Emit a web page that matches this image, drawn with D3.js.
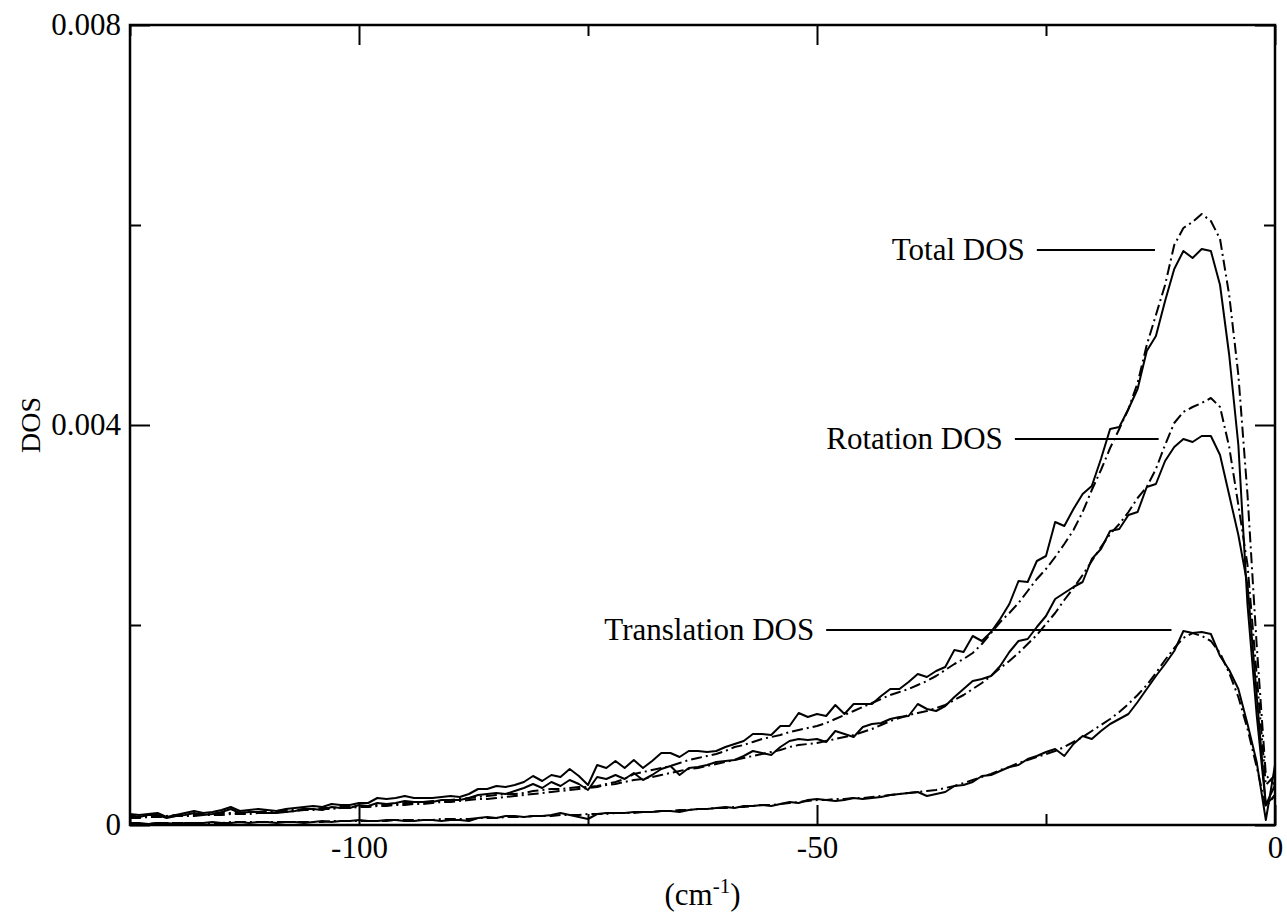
<!DOCTYPE html>
<meta charset="utf-8">
<style>
  body { margin: 0; background: #fff; }
  text { font-family: "Liberation Serif", "Times New Roman", serif; fill: #000; }
</style>
<svg width="1287" height="915"></svg>
<script src="https://d3js.org/d3.v7.min.js"></script>
<script>

// frequency grid (cm^-1), one point per wavenumber
var freq = d3.range(-125, 1);

var totalSolid = [
  0.00011, 0.00010, 0.00011, 0.00012, 0.00008, 0.00010, 0.00012, 0.00014, 0.00012, 0.00013,
  0.00015, 0.00018, 0.00014, 0.00015, 0.00016, 0.00015, 0.00014, 0.00016, 0.00017, 0.00018,
  0.00019, 0.00018, 0.00021, 0.00020, 0.00020, 0.00022, 0.00022, 0.00027, 0.00026, 0.00027,
  0.00029, 0.00027, 0.00027, 0.00027, 0.00028, 0.00029, 0.00028, 0.00031, 0.00036, 0.00036,
  0.00039, 0.00038, 0.00040, 0.00043, 0.00049, 0.00044, 0.00050, 0.00048, 0.00056, 0.00049,
  0.00040, 0.00060, 0.00057, 0.00064, 0.00057, 0.00065, 0.00057, 0.00064, 0.00072, 0.00072,
  0.00068, 0.00074, 0.00074, 0.00073, 0.00074, 0.00078, 0.00081, 0.00084, 0.00091, 0.00091,
  0.00090, 0.00099, 0.00099, 0.00112, 0.00108, 0.00111, 0.00109, 0.00120, 0.00111, 0.00121,
  0.00121, 0.00121, 0.00129, 0.00136, 0.00136, 0.00143, 0.00151, 0.00148, 0.00154, 0.00158,
  0.00175, 0.00173, 0.00189, 0.00184, 0.00193, 0.00206, 0.00221, 0.00244, 0.00243, 0.00264,
  0.00269, 0.00303, 0.00299, 0.00316, 0.00331, 0.00339, 0.00366, 0.00396, 0.00398, 0.00416,
  0.00436, 0.00474, 0.00489, 0.00524, 0.00556, 0.00574, 0.00567, 0.00576, 0.00574, 0.00540,
  0.00470, 0.00380, 0.00220, 0.00110, 0.00020, 0.00030
];

var totalDash = [
  0.00008, 0.00008, 0.00009, 0.00009, 0.00009, 0.00010, 0.00010, 0.00011, 0.00011, 0.00011,
  0.00012, 0.00012, 0.00012, 0.00013, 0.00013, 0.00014, 0.00014, 0.00015, 0.00015, 0.00016,
  0.00016, 0.00017, 0.00017, 0.00018, 0.00018, 0.00019, 0.00019, 0.00020, 0.00021, 0.00021,
  0.00022, 0.00022, 0.00023, 0.00024, 0.00024, 0.00025, 0.00026, 0.00027, 0.00028, 0.00029,
  0.00030, 0.00031, 0.00031, 0.00032, 0.00034, 0.00035, 0.00036, 0.00036, 0.00037, 0.00038,
  0.00038, 0.00039, 0.00041, 0.00043, 0.00046, 0.00051, 0.00053, 0.00055, 0.00057, 0.00059,
  0.00062, 0.00065, 0.00067, 0.00069, 0.00071, 0.00074, 0.00078, 0.00080, 0.00083, 0.00086,
  0.00088, 0.00090, 0.00093, 0.00095, 0.00097, 0.00099, 0.00102, 0.00106, 0.00110, 0.00114,
  0.00118, 0.00122, 0.00126, 0.00130, 0.00133, 0.00136, 0.00140, 0.00144, 0.00149, 0.00155,
  0.00161, 0.00166, 0.00172, 0.00181, 0.00192, 0.00203, 0.00212, 0.00222, 0.00234, 0.00246,
  0.00256, 0.00268, 0.00281, 0.00295, 0.00313, 0.00335, 0.00355, 0.00377, 0.00396, 0.00416,
  0.00442, 0.00480, 0.00510, 0.00540, 0.00580, 0.00597, 0.00603, 0.00611, 0.00604, 0.00586,
  0.00530, 0.00450, 0.00330, 0.00180, 0.00050, 0.00040
];

var rotSolid = [
  0.00010, 0.00008, 0.00010, 0.00010, 0.00007, 0.00009, 0.00010, 0.00012, 0.00010, 0.00011,
  0.00013, 0.00016, 0.00012, 0.00013, 0.00013, 0.00012, 0.00012, 0.00013, 0.00014, 0.00016,
  0.00016, 0.00015, 0.00018, 0.00017, 0.00017, 0.00020, 0.00019, 0.00022, 0.00021, 0.00022,
  0.00024, 0.00023, 0.00023, 0.00023, 0.00025, 0.00025, 0.00025, 0.00027, 0.00030, 0.00031,
  0.00032, 0.00031, 0.00034, 0.00037, 0.00041, 0.00037, 0.00043, 0.00039, 0.00045, 0.00041,
  0.00035, 0.00048, 0.00046, 0.00050, 0.00046, 0.00052, 0.00045, 0.00050, 0.00056, 0.00059,
  0.00050, 0.00057, 0.00058, 0.00060, 0.00063, 0.00064, 0.00065, 0.00069, 0.00074, 0.00072,
  0.00070, 0.00078, 0.00084, 0.00086, 0.00085, 0.00086, 0.00083, 0.00094, 0.00091, 0.00088,
  0.00098, 0.00101, 0.00102, 0.00106, 0.00108, 0.00109, 0.00121, 0.00116, 0.00114, 0.00119,
  0.00128, 0.00136, 0.00144, 0.00146, 0.00149, 0.00159, 0.00173, 0.00184, 0.00186, 0.00198,
  0.00209, 0.00226, 0.00232, 0.00238, 0.00243, 0.00266, 0.00276, 0.00294, 0.00296, 0.00310,
  0.00313, 0.00338, 0.00341, 0.00364, 0.00378, 0.00386, 0.00383, 0.00389, 0.00389, 0.00370,
  0.00330, 0.00290, 0.00240, 0.00130, 0.00020, 0.00040
];

var rotDash = [
  0.00007, 0.00007, 0.00008, 0.00008, 0.00008, 0.00009, 0.00009, 0.00009, 0.00010, 0.00010,
  0.00010, 0.00011, 0.00011, 0.00011, 0.00012, 0.00012, 0.00013, 0.00013, 0.00014, 0.00015,
  0.00015, 0.00016, 0.00016, 0.00017, 0.00017, 0.00018, 0.00018, 0.00019, 0.00019, 0.00020,
  0.00020, 0.00021, 0.00021, 0.00022, 0.00023, 0.00023, 0.00024, 0.00025, 0.00026, 0.00026,
  0.00027, 0.00028, 0.00029, 0.00030, 0.00031, 0.00032, 0.00033, 0.00034, 0.00035, 0.00036,
  0.00037, 0.00038, 0.00040, 0.00041, 0.00043, 0.00045, 0.00046, 0.00048, 0.00050, 0.00052,
  0.00054, 0.00056, 0.00057, 0.00059, 0.00061, 0.00063, 0.00065, 0.00067, 0.00069, 0.00071,
  0.00073, 0.00075, 0.00078, 0.00080, 0.00081, 0.00082, 0.00084, 0.00086, 0.00088, 0.00090,
  0.00093, 0.00096, 0.00100, 0.00104, 0.00107, 0.00110, 0.00112, 0.00114, 0.00117, 0.00120,
  0.00125, 0.00130, 0.00136, 0.00142, 0.00149, 0.00157, 0.00164, 0.00172, 0.00181, 0.00190,
  0.00201, 0.00212, 0.00225, 0.00237, 0.00250, 0.00264, 0.00278, 0.00291, 0.00301, 0.00313,
  0.00327, 0.00338, 0.00356, 0.00380, 0.00402, 0.00413, 0.00418, 0.00422, 0.00427, 0.00418,
  0.00378, 0.00320, 0.00260, 0.00150, 0.00040, 0.00050
];

var transSolid = [
  0.00002, 0.00002, 0.00001, 0.00002, 0.00002, 0.00001, 0.00002, 0.00002, 0.00002, 0.00003,
  0.00002, 0.00002, 0.00003, 0.00002, 0.00003, 0.00003, 0.00002, 0.00003, 0.00003, 0.00002,
  0.00003, 0.00004, 0.00003, 0.00004, 0.00004, 0.00005, 0.00004, 0.00004, 0.00005, 0.00005,
  0.00004, 0.00004, 0.00005, 0.00005, 0.00004, 0.00005, 0.00005, 0.00004, 0.00007, 0.00008,
  0.00007, 0.00009, 0.00009, 0.00008, 0.00009, 0.00009, 0.00010, 0.00012, 0.00010, 0.00008,
  0.00006, 0.00011, 0.00012, 0.00012, 0.00012, 0.00013, 0.00013, 0.00013, 0.00014, 0.00014,
  0.00013, 0.00015, 0.00016, 0.00016, 0.00017, 0.00018, 0.00017, 0.00019, 0.00019, 0.00020,
  0.00019, 0.00021, 0.00023, 0.00022, 0.00025, 0.00026, 0.00025, 0.00024, 0.00025, 0.00027,
  0.00026, 0.00027, 0.00028, 0.00030, 0.00031, 0.00032, 0.00033, 0.00029, 0.00031, 0.00033,
  0.00039, 0.00040, 0.00043, 0.00049, 0.00050, 0.00054, 0.00058, 0.00060, 0.00066, 0.00069,
  0.00073, 0.00076, 0.00069, 0.00081, 0.00089, 0.00086, 0.00094, 0.00101, 0.00106, 0.00111,
  0.00123, 0.00136, 0.00149, 0.00161, 0.00174, 0.00194, 0.00192, 0.00193, 0.00191, 0.00169,
  0.00155, 0.00136, 0.00101, 0.00063, 0.00005, 0.00060
];

var transDash = [
  0.00001, 0.00001, 0.00001, 0.00002, 0.00002, 0.00002, 0.00002, 0.00002, 0.00002, 0.00002,
  0.00002, 0.00003, 0.00003, 0.00003, 0.00003, 0.00003, 0.00003, 0.00003, 0.00003, 0.00003,
  0.00003, 0.00003, 0.00004, 0.00004, 0.00004, 0.00004, 0.00004, 0.00004, 0.00004, 0.00005,
  0.00005, 0.00005, 0.00005, 0.00005, 0.00006, 0.00006, 0.00006, 0.00006, 0.00007, 0.00007,
  0.00007, 0.00008, 0.00008, 0.00008, 0.00009, 0.00009, 0.00009, 0.00010, 0.00010, 0.00010,
  0.00011, 0.00011, 0.00011, 0.00012, 0.00012, 0.00012, 0.00013, 0.00013, 0.00014, 0.00014,
  0.00015, 0.00015, 0.00016, 0.00016, 0.00017, 0.00017, 0.00018, 0.00018, 0.00019, 0.00020,
  0.00020, 0.00021, 0.00022, 0.00023, 0.00024, 0.00025, 0.00025, 0.00026, 0.00026, 0.00027,
  0.00027, 0.00028, 0.00029, 0.00030, 0.00031, 0.00032, 0.00033, 0.00034, 0.00035, 0.00037,
  0.00039, 0.00042, 0.00045, 0.00048, 0.00051, 0.00055, 0.00058, 0.00062, 0.00065, 0.00068,
  0.00071, 0.00074, 0.00078, 0.00083, 0.00088, 0.00094, 0.00100, 0.00106, 0.00113, 0.00121,
  0.00130, 0.00140, 0.00152, 0.00165, 0.00177, 0.00187, 0.00192, 0.00189, 0.00184, 0.00172,
  0.00152, 0.00128, 0.00096, 0.00058, 0.00018, 0.00030
];

var xMajor = [-100, -50, 0];
var xMinor = [-125, -75, -25];
var yMajor = [0, 0.004, 0.008];
var yMinor = [0.002, 0.006];

// labels: text, start/end of the leader line (cm^-1), and its height (DOS)
var labels = [
  {text: "Total DOS",       x0: -26.0, x1: -13.1, y: 0.00575},
  {text: "Rotation DOS",    x0: -28.4, x1: -12.7, y: 0.00386},
  {text: "Translation DOS", x0: -49.0, x1: -11.3, y: 0.00195}
];

var svg = d3.select("svg"),
    mLeft = 130, mRight = 1275, mTop = 25, mBottom = 825;

var x = d3.scaleLinear().domain([-125, 0]).range([mLeft, mRight]);
var y = d3.scaleLinear().domain([0, 0.008]).range([mBottom, mTop]);

var fmtX = function(d) { return String(d); };
var fmtY = function(d) { return d === 0 ? "0" : d.toFixed(3); };

function axis(gen, tr, size, vals, fmt, pad) {
  var g = svg.append("g")
      .attr("transform", tr)
      .call(gen.tickValues(vals).tickSize(size).tickPadding(pad).tickFormat(fmt));
  g.select(".domain").remove();
  g.selectAll("line").attr("stroke", "#000").attr("stroke-width", 2);
  g.selectAll("text").attr("font-size", 31).attr("font-family", "Liberation Serif, serif");
  return g;
}

// major / minor ticks on all four sides, pointing inward
axis(d3.axisBottom(x), "translate(0," + mBottom + ")", -20, xMajor, fmtX, 11);
axis(d3.axisBottom(x), "translate(0," + mBottom + ")", -11, xMinor, "", 11);
axis(d3.axisTop(x), "translate(0," + mTop + ")", -20, xMajor, "", 0);
axis(d3.axisTop(x), "translate(0," + mTop + ")", -11, xMinor, "", 0);
axis(d3.axisLeft(y), "translate(" + mLeft + ",0)", -20, yMajor, fmtY, 9);
axis(d3.axisLeft(y), "translate(" + mLeft + ",0)", -11, yMinor, "", 9);
axis(d3.axisRight(y), "translate(" + mRight + ",0)", -20, yMajor, "", 0);
axis(d3.axisRight(y), "translate(" + mRight + ",0)", -11, yMinor, "", 0);

var line = d3.line()
    .x(function(d, i) { return x(freq[i]); })
    .y(function(d) { return y(d); });

var series = [
  {v: transDash, dash: "11,4,2,4"},
  {v: rotDash,   dash: "11,4,2,4"},
  {v: totalDash, dash: "11,4,2,4"},
  {v: transSolid, dash: null},
  {v: rotSolid,   dash: null},
  {v: totalSolid, dash: null}
];

svg.append("g").selectAll("path")
    .data(series)
  .enter().append("path")
    .attr("fill", "none")
    .attr("stroke", "#000")
    .attr("stroke-width", 2)
    .attr("stroke-linejoin", "round")
    .attr("stroke-dasharray", function(d) { return d.dash; })
    .attr("d", function(d) { return line(d.v); });

// frame
svg.append("rect")
    .attr("x", mLeft).attr("y", mTop)
    .attr("width", mRight - mLeft).attr("height", mBottom - mTop)
    .attr("fill", "none").attr("stroke", "#000").attr("stroke-width", 2.5);

// annotations
var ann = svg.append("g");
ann.selectAll("line")
    .data(labels)
  .enter().append("line")
    .attr("x1", function(d) { return x(d.x0); })
    .attr("x2", function(d) { return x(d.x1); })
    .attr("y1", function(d) { return y(d.y); })
    .attr("y2", function(d) { return y(d.y); })
    .attr("stroke", "#000").attr("stroke-width", 2);
ann.selectAll("text")
    .data(labels)
  .enter().append("text")
    .attr("x", function(d) { return x(d.x0) - 12; })
    .attr("y", function(d) { return y(d.y); })
    .attr("dy", "0.33em")
    .attr("text-anchor", "end")
    .attr("font-size", 31)
    .text(function(d) { return d.text; });

// axis titles
var xt = svg.append("text")
    .attr("x", (mLeft + mRight) / 2)
    .attr("y", 905)
    .attr("text-anchor", "middle")
    .attr("font-size", 31);
xt.append("tspan").text("(cm");
xt.append("tspan").attr("dy", -12).attr("font-size", 21).text("-1");
xt.append("tspan").attr("dy", 12).text(")");

svg.append("text")
    .attr("transform", "translate(40," + ((mTop + mBottom) / 2) + ") rotate(-90)")
    .attr("text-anchor", "middle")
    .attr("font-size", 28)
    .text("DOS");

</script>
